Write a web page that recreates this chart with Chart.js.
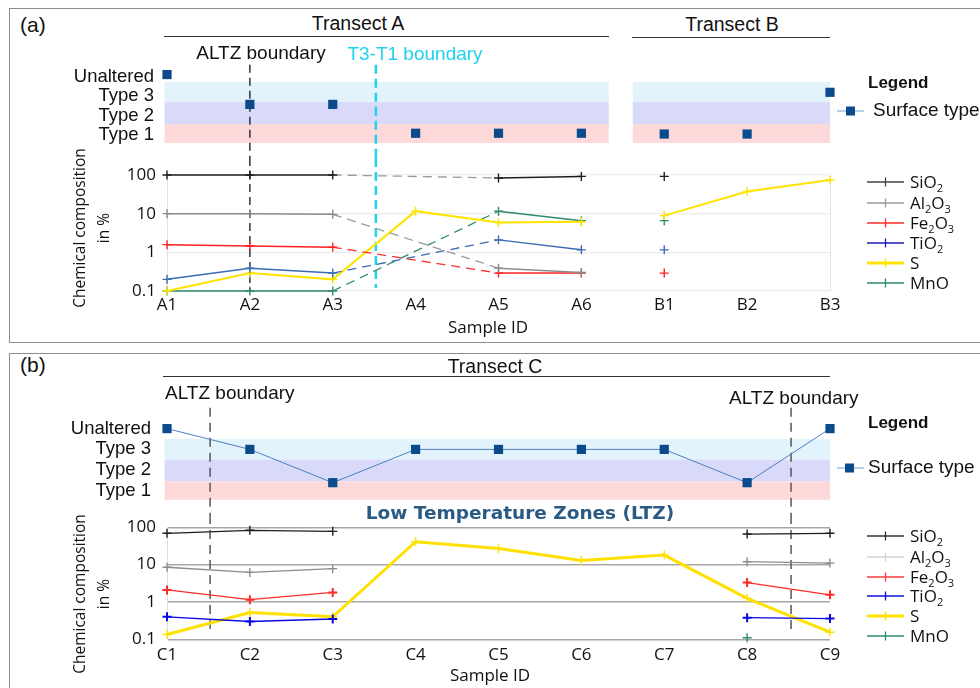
<!DOCTYPE html>
<html>
<head>
<meta charset="utf-8">
<script src="https://cdn.jsdelivr.net/npm/chart.js@4.4.1/dist/chart.umd.min.js"></script>
<style>
html,body{margin:0;padding:0;background:#fff;}
#page{position:relative;width:980px;height:688px;overflow:hidden;font-family:"Liberation Sans",Arial,sans-serif;color:#111;}
.box{position:absolute;border:1.5px solid #8c8c8c;box-sizing:border-box;}
canvas{position:absolute;left:0;}
.t{position:absolute;white-space:nowrap;line-height:1.2;transform:translateY(-50%);}
.c{transform:translate(-50%,-50%);}
.rule{position:absolute;height:0;border-top:1.4px solid #333;}
.os{font-family:"Open Sans",sans-serif;}
sub{font-size:11px;vertical-align:-4px;line-height:0;}
.ytitle{position:absolute;width:220px;text-align:center;font-family:"Open Sans",sans-serif;font-size:15.5px;line-height:24px;transform:translate(-50%,-50%) rotate(-90deg);color:#111;}
.sym{position:absolute;}
</style>
</head>
<body>
<div id="page">
  <div class="box" style="left:9px;top:8px;width:990px;height:335px"></div>
  <div class="box" style="left:9px;top:353px;width:990px;height:360px"></div>

  <canvas id="aTop" width="980" height="118" style="top:40px"></canvas>
  <canvas id="aBot" width="980" height="187" style="top:158px"></canvas>
  <canvas id="bTop" width="980" height="135" style="top:380px"></canvas>
  <canvas id="bBot" width="980" height="173" style="top:515px"></canvas>

  <!-- panel (a) texts -->
  <div class="t" style="left:20px;top:25px;font-size:21px">(a)</div>
  <div class="t c" style="left:358px;top:24px;font-size:19.5px">Transect A</div>
  <div class="rule" style="left:164px;top:36px;width:445px"></div>
  <div class="t c" style="left:732px;top:25px;font-size:19.5px">Transect B</div>
  <div class="rule" style="left:632px;top:37px;width:198px"></div>
  <div class="t c" style="left:261px;top:53px;font-size:19px">ALTZ boundary</div>
  <div class="t c" style="left:415px;top:54px;font-size:19px;color:#1fd3f0">T3-T1 boundary</div>
  <div class="t" style="left:868px;top:83px;font-size:17px;font-weight:bold">Legend</div>
  <svg class="sym" style="left:837px;top:105px" width="28" height="12"><line x1="0" y1="6" x2="27" y2="6" stroke="#9fbde0" stroke-width="1.5"/><rect x="9" y="1.5" width="9" height="9" fill="#0b4a8b"/></svg>
  <div class="t" style="left:873px;top:110px;font-size:19px">Surface type</div>
  <div class="ytitle" style="left:91px;top:228px">Chemical composition<br>in %</div>
  <div class="t c os" style="left:488px;top:327px;font-size:17px">Sample ID</div>
  <div id="legA"></div>

  <!-- panel (b) texts -->
  <div class="t" style="left:20px;top:365px;font-size:21px">(b)</div>
  <div class="t c" style="left:495px;top:367px;font-size:19.5px">Transect C</div>
  <div class="rule" style="left:163px;top:376px;width:667px"></div>
  <div class="t" style="left:165px;top:393px;font-size:19px">ALTZ boundary</div>
  <div class="t" style="left:729px;top:398px;font-size:19px">ALTZ boundary</div>
  <div class="t" style="left:868px;top:423px;font-size:17px;font-weight:bold">Legend</div>
  <svg class="sym" style="left:837px;top:462px" width="28" height="12"><line x1="0" y1="6" x2="27" y2="6" stroke="#9fbde0" stroke-width="1.5"/><rect x="8" y="1.5" width="9" height="9" fill="#0b4a8b"/></svg>
  <div class="t" style="left:868px;top:467px;font-size:19px">Surface type</div>
  <div class="t c" style="left:520px;top:513px;font-size:18.5px;font-weight:bold;color:#2b5b84;font-family:'DejaVu Sans',sans-serif">Low Temperature Zones (LTZ)</div>
  <div class="ytitle" style="left:91px;top:594px">Chemical composition<br>in %</div>
  <div class="t c os" style="left:490px;top:675px;font-size:17px">Sample ID</div>
  <div id="legB"></div>
</div>

<script>
// ---------------- DATA ----------------
const samplesAB = ['A1','A2','A3','A4','A5','A6','B1','B2','B3'];
const samplesC  = ['C1','C2','C3','C4','C5','C6','C7','C8','C9'];
const surfaceLabels = ['Type 1','Type 2','Type 3','Unaltered']; // levels 1..4
const surfaceTicks = [1, 2, 3, 4];
const chemTicks = [0.1, 1, 10, 100];
const elementNames = ['SiO<sub>2</sub>','Al<sub>2</sub>O<sub>3</sub>','Fe<sub>2</sub>O<sub>3</sub>','TiO<sub>2</sub>','S','MnO'];

// surface type level per sample
const surfaceAB = [4.1, 2.57, 2.57, 1.09, 1.09, 1.09, 1.05, 1.05, 3.19];
const surfaceC  = [4, 3, 1.4, 3, 3, 3, 3, 1.4, 4];

// Transect A (A1..A6), %
const sio2_A  = [100, 100, 100, null, 84, 92];
const al2o3_A = [10, 10, 9.6, null, 0.39, 0.30];
const fe2o3_A = [1.58, 1.46, 1.36, null, 0.29, 0.29];
const tio2_A  = [0.20, 0.39, 0.29, null, 2.1, 1.16];
const s_A     = [0.1, 0.29, 0.20, 11.6, 5.9, 6.2];
const mno_A   = [0.1, 0.1, 0.1, null, 11.6, 6.6];
// Transect B (B1..B3), %
const sio2_B  = [92, null, null];
const al2o3_B = [null, null, null];
const fe2o3_B = [0.29, null, null];
const tio2_B  = [1.16, null, null];
const s_B     = [8.9, 37.6, 74];
const mno_B   = [6.6, null, null];
// Transect C (C1..C9), %
const sio2_C  = [69, 83, 78, null, null, null, null, 66, 69];
const al2o3_C = [8.5, 6.2, 7.8, null, null, null, null, 12, 11];
const fe2o3_C = [2.1, 1.15, 1.8, null, null, null, null, 3.3, 1.55];
const tio2_C  = [0.40, 0.30, 0.35, null, null, null, null, 0.38, 0.36];
const s_C     = [0.135, 0.52, 0.40, 41, 27, 13, 18, 1.25, 0.155];
const mno_C   = [null, null, null, null, null, null, null, 0.11, null];

// band extents (surface-type levels) and spans (sample index)
const bandEdgesAB = [[0.59, 1.56], [1.56, 2.69], [2.69, 3.72]];
const bandSpansAB = [[-0.03, 5.33], [5.62, 8]];
const bandEdgesC  = [[0.58, 1.47], [1.47, 2.52], [2.52, 3.5]];
const bandSpansC  = [[-0.03, 8]];

// boundaries (sample index position, lower end value in %)
const boundariesAB = [{at: 1, to: 0.1, kind: 'altz'}, {at: 2.52, to: 0.12, kind: 't3t1'}];
const boundariesC  = [{at: 0.52, to: 0.19, kind: 'altzb'}, {at: 7.53, to: 0.19, kind: 'altzb'}];

// ---------------- STYLES ----------------
const bandColors = ['#fdd9d9', '#d9d9fa', '#e3f3fc'];
const lineStyles = {
  altz:  {color: '#333', width: 1.5, dash: [8, 5]},
  t3t1:  {color: '#1fd3f0', width: 2.5, dash: [9, 5]},
  altzb: {color: '#555', width: 1.5, dash: [9, 6]}
};
const styleAB = [
  {c: '#1e1e1e', d: '#9a9a9a', w: 1.5, leg: '#444'},
  {c: '#8c8c8c', d: '#9a9a9a', w: 1.5, leg: '#9a9a9a'},
  {c: '#ff2020', d: '#ff3030', w: 1.5, leg: '#ff2a2a'},
  {c: '#3a6cb2', d: '#3a6cb2', w: 1.5, leg: '#1c1cb8'},
  {c: '#ffe400', d: '#ffe400', w: 2,   leg: '#ffe400'},
  {c: '#2e8b6b', d: '#2e8b6b', w: 1.5, leg: '#2e8b6b'}
];
const styleC = [
  {c: '#1e1e1e', w: 1.3, leg: '#333'},
  {c: '#8c8c8c', w: 1.3, leg: '#d4d4d4'},
  {c: '#ff2a2a', w: 1.3, leg: '#ff3a3a'},
  {c: '#0a0ae0', w: 1.3, leg: '#1010d0'},
  {c: '#ffe100', w: 3,   leg: '#ffe400'},
  {c: '#2e8b6b', w: 1.3, leg: '#2e8b6b'}
];

// ---------------- PLUGINS ----------------
function bandsPlugin(spans, edges) {
  return {
    id: 'bands',
    beforeDatasetsDraw(chart) {
      const {ctx, scales: {x, y}} = chart;
      ctx.save();
      spans.forEach(([x0, x1]) => {
        const px0 = x.getPixelForValue(x0), px1 = x.getPixelForValue(x1);
        edges.forEach((e, i) => {
          const top = y.getPixelForValue(e[1]), bot = y.getPixelForValue(e[0]);
          ctx.fillStyle = bandColors[i];
          ctx.fillRect(px0, top, px1 - px0, bot - top);
        });
      });
      ctx.restore();
    }
  };
}
function vlinesPlugin(lines, part) {
  return {
    id: 'vlines',
    beforeDatasetsDraw(chart) {
      const {ctx, scales: {x, y}, chartArea} = chart;
      lines.forEach(l => {
        const st = lineStyles[l.kind];
        const px = x.getPixelForValue(l.at);
        const y0 = part === 'top' ? chartArea.top : 0;
        const y1 = part === 'top' ? chart.height : y.getPixelForValue(l.to);
        ctx.save();
        ctx.strokeStyle = st.color; ctx.lineWidth = st.width; ctx.setLineDash(st.dash);
        ctx.beginPath(); ctx.moveTo(px, y0); ctx.lineTo(px, y1); ctx.stroke();
        ctx.restore();
      });
    }
  };
}

// ---------------- CHART BUILDERS ----------------
function surfaceChart(id, labels, values, o) {
  return new Chart(document.getElementById(id), {
    type: 'line',
    data: {labels, datasets: [{
      data: values, showLine: o.showLine, borderColor: '#4f80bf', borderWidth: 1,
      pointStyle: 'rect', pointRadius: 6.5, pointHoverRadius: 6.5,
      pointBackgroundColor: '#0b4a8b', pointBorderColor: '#0b4a8b', pointBorderWidth: 0, clip: false
    }]},
    options: {
      responsive: false, animation: false, devicePixelRatio: 1,
      layout: {padding: {left: 0, right: 150, top: o.padTop, bottom: o.padBottom}},
      plugins: {legend: {display: false}, tooltip: {enabled: false}},
      scales: {
        x: {type: 'category', offset: false, display: false},
        y: {
          min: 0.5, max: o.max,
          afterFit(s) { s.width = 167; },
          afterBuildTicks(s) { s.ticks = surfaceTicks.map(v => ({value: v})); },
          ticks: {callback: v => surfaceLabels[v - 1], font: {family: 'Liberation Sans', size: 18.5}, color: '#111', padding: 0},
          grid: {display: true, drawOnChartArea: false, drawTicks: true, tickLength: o.tickGap, tickColor: 'rgba(0,0,0,0)', color: 'rgba(0,0,0,0)'},
          border: {display: false}
        }
      }
    },
    plugins: [bandsPlugin(o.spans, o.edges), vlinesPlugin(o.lines, 'top')]
  });
}

function chemChart(id, labels, datasets, o) {
  return new Chart(document.getElementById(id), {
    type: 'line',
    data: {labels, datasets},
    options: {
      responsive: false, animation: false, devicePixelRatio: 1,
      layout: {padding: {left: 0, right: 150, top: o.padTop, bottom: o.padBottom}},
      plugins: {legend: {display: false}, tooltip: {enabled: false}},
      scales: {
        x: {
          type: 'category', offset: false,
          afterFit(s) { s.height = 30; },
          ticks: {font: {family: 'Open Sans', size: 17}, color: '#111', padding: o.xPad, maxRotation: 0, autoSkip: false},
          grid: {drawTicks: false, color: o.xGrid},
          border: {display: false}
        },
        y: {
          type: 'logarithmic', min: 0.1, max: 100,
          afterFit(s) { s.width = 167; },
          afterBuildTicks(s) { s.ticks = chemTicks.map(v => ({value: v})); },
          ticks: {callback: v => String(v), font: {family: 'Open Sans', size: 17}, color: '#111', padding: 0},
          grid: {drawTicks: true, tickLength: 11, tickColor: 'rgba(0,0,0,0)', color: o.yGrid, lineWidth: o.yGridW},
          border: {display: true, color: o.yBorder, width: 1}
        }
      }
    },
    plugins: [vlinesPlugin(o.lines, 'bottom')]
  });
}

function crossDs(data, color, width, extra) {
  return Object.assign({
    data, borderColor: color, backgroundColor: color, borderWidth: width,
    pointStyle: 'cross', pointRadius: 4.5, pointHoverRadius: 4.5, pointBorderWidth: 1.4,
    pointBorderColor: color, clip: false, tension: 0
  }, extra || {});
}

const nulls = n => Array(n).fill(null);

// ---------------- PANEL (a) ----------------
surfaceChart('aTop', samplesAB, surfaceAB, {
  showLine: false, max: 4.6, padTop: 24.8, padBottom: 13.25, tickGap: 13,
  spans: bandSpansAB, edges: bandEdgesAB, lines: boundariesAB
});

const chemA = [sio2_A, al2o3_A, fe2o3_A, tio2_A, s_A, mno_A];
const chemB = [sio2_B, al2o3_B, fe2o3_B, tio2_B, s_B, mno_B];
const dsAB = [];
chemA.forEach((arr, i) => {
  const st = styleAB[i];
  const gap = ctx => ctx.p0.skip || ctx.p1.skip;
  dsAB.push(crossDs(arr.concat(nulls(samplesAB.length - arr.length)), st.c, st.w, {
    spanGaps: true,
    segment: {
      borderDash: ctx => gap(ctx) ? [9, 6] : undefined,
      borderColor: ctx => gap(ctx) ? st.d : undefined,
      borderWidth: ctx => gap(ctx) ? 1.3 : undefined
    }
  }));
  dsAB.push(crossDs(nulls(samplesAB.length - chemB[i].length).concat(chemB[i]), st.c, st.w, {spanGaps: false}));
});
chemChart('aBot', samplesAB, dsAB, {
  padTop: 17, padBottom: 24, xPad: 4,
  xGrid: ctx => ctx.index === samplesAB.length - 1 ? '#e6e6e6' : 'rgba(0,0,0,0)',
  yGrid: '#ececec', yGridW: 1.2, yBorder: '#e2e2e2', lines: boundariesAB
});

// ---------------- PANEL (b) ----------------
surfaceChart('bTop', samplesC, surfaceC, {
  showLine: true, max: 5.0, padTop: 27.8, padBottom: 13.6, tickGap: 16,
  spans: bandSpansC, edges: bandEdgesC, lines: boundariesC
});
const chemC = [sio2_C, al2o3_C, fe2o3_C, tio2_C, s_C, mno_C];
const dsC = chemC.map((arr, i) => crossDs(arr, styleC[i].c, styleC[i].w, {
  spanGaps: false, pointBorderWidth: i === 2 || i === 3 ? 2 : 1.4
}));
chemChart('bBot', samplesC, dsC, {
  padTop: 12.3, padBottom: 18.7, xPad: 5.5,
  xGrid: 'rgba(0,0,0,0)',
  yGrid: '#a8a8a8', yGridW: 1.5, yBorder: '#dedede', lines: boundariesC
});

// ---------------- LEGENDS (HTML) ----------------
function buildLegend(elId, rowsY, styles) {
  const host = document.getElementById(elId);
  let html = '';
  elementNames.forEach((name, i) => {
    const c = styles[i].leg, w = i === 4 ? 3 : 1.5;
    html += `<svg class="sym" style="left:867px;top:${rowsY[i] - 6}px" width="37" height="12">` +
      `<line x1="0" y1="6" x2="37" y2="6" stroke="${c}" stroke-width="${w}"/>` +
      `<line x1="18.5" y1="1.5" x2="18.5" y2="10.5" stroke="${c}" stroke-width="1.3"/></svg>` +
      `<div class="t os" style="left:910px;top:${rowsY[i]}px;font-size:17px">${name}</div>`;
  });
  host.innerHTML = html;
}
buildLegend('legA', [182, 203, 223, 243, 263, 283], styleAB);
buildLegend('legB', [536, 557, 577, 596, 616, 636], styleC);
</script>
</body>
</html>
